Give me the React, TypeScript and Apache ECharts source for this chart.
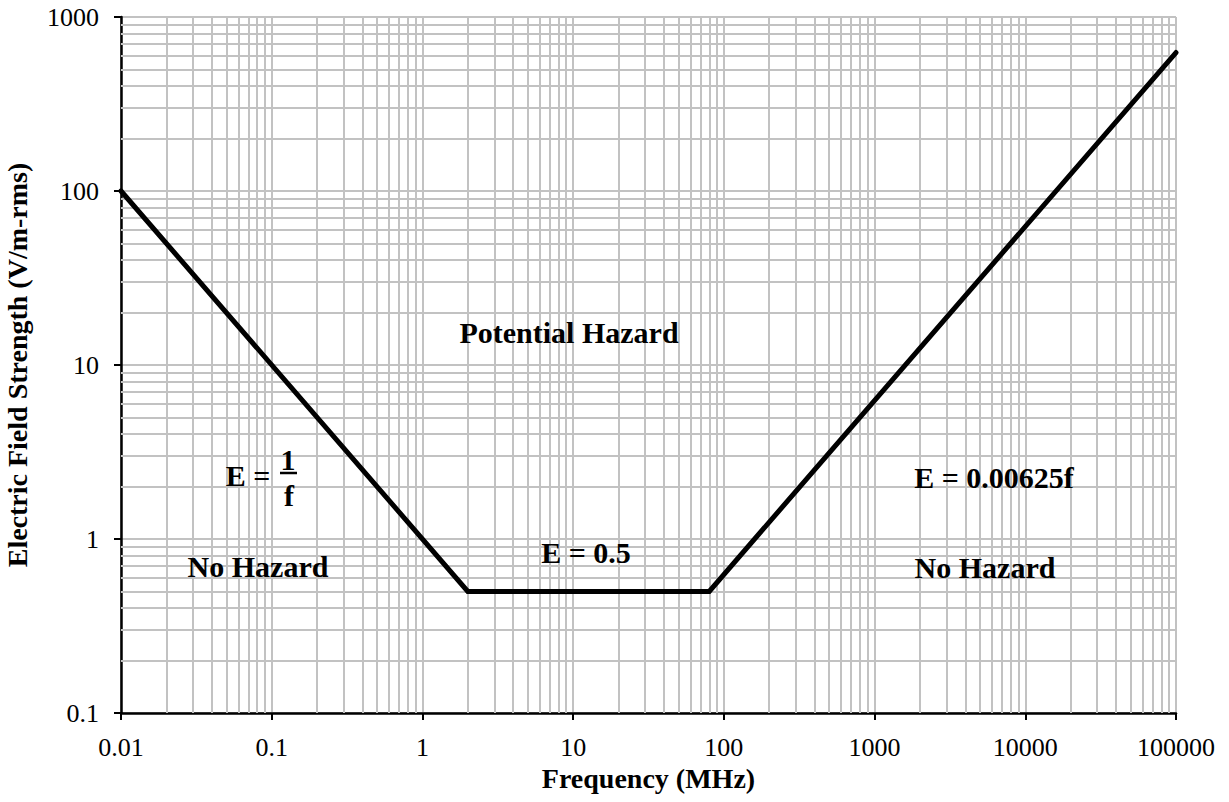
import React, { useEffect, useRef } from 'react';
import * as echarts from 'echarts';

const xDecades = [0.01, 0.1, 1, 10, 100, 1000, 10000, 100000];
const yDecades = [0.1, 1, 10, 100, 1000];
const xTickLabels = ['0.01', '0.1', '1', '10', '100', '1000', '10000', '100000'];
const yTickLabels = ['0.1', '1', '10', '100', '1000'];
const minorMultipliers = [2, 3, 4, 5, 6, 7, 8, 9];
const frequency = [0.01, 2, 80, 100000];
const fieldStrength = [100, 0.5, 0.5, 625];

const GRID = '#c2c2c2';
const FONT = '"Liberation Serif", "Times New Roman", serif';

function minorValues(decades: number[]): number[] {
  const out: number[] = [];
  for (let i = 0; i < decades.length - 1; i++) {
    for (const m of minorMultipliers) out.push(decades[i] * m);
  }
  return out;
}

function labelFor(labels: string[], minExp: number) {
  return (v: number) => {
    const i = Math.round(Math.log10(v)) - minExp;
    return labels[i] ?? '';
  };
}

export default function App() {
  const ref = useRef<HTMLDivElement>(null);
  useEffect(() => {
    if (!ref.current) return;
    const chart = echarts.init(ref.current, null, { renderer: 'svg' });
    const lineData = frequency.map((f, i) => [f, fieldStrength[i]]);
    const xMinor = minorValues(xDecades).map((v) => ({ xAxis: v }));
    const yMinor = minorValues(yDecades).map((v) => ({ yAxis: v }));
    const bold30 = { fontFamily: FONT, fontWeight: 'bold' as const, fontSize: 30, fill: '#000' };
    const txt = (text: string, x: number, y: number) => ({
      type: 'text',
      x,
      y,
      z: 10,
      style: { text, align: 'center', verticalAlign: 'middle', ...bold30 },
    });
    chart.setOption({
      animation: false,
      backgroundColor: '#fff',
      grid: { left: 121, right: 53, top: 17, bottom: 89, containLabel: false, outerBoundsMode: 'none' },
      xAxis: {
        type: 'log',
        logBase: 10,
        min: 0.01,
        max: 100000,
        splitNumber: 7,
        name: 'Frequency (MHz)',
        nameLocation: 'middle',
        nameGap: 47,
        nameTextStyle: { fontFamily: FONT, fontWeight: 'bold', fontSize: 28, color: '#000' },
        axisLine: { show: true, lineStyle: { color: '#000', width: 2.5 } },
        axisTick: { show: true, inside: false, length: 7, lineStyle: { color: '#000', width: 2 } },
        axisLabel: {
          formatter: labelFor(xTickLabels, -2),
          fontFamily: FONT,
          fontSize: 26,
          color: '#000',
          margin: 21,
          showMinLabel: true,
          showMaxLabel: true,
        },
        splitLine: { show: true, lineStyle: { color: GRID, width: 2 } },
        minorTick: { show: false },
      },
      yAxis: {
        type: 'log',
        logBase: 10,
        min: 0.1,
        max: 1000,
        splitNumber: 4,
        name: 'Electric Field Strength (V/m-rms)',
        nameLocation: 'middle',
        nameGap: 90,
        nameTextStyle: { fontFamily: FONT, fontWeight: 'bold', fontSize: 28, color: '#000' },
        axisLine: { show: true, lineStyle: { color: '#000', width: 2.5 } },
        axisTick: { show: true, inside: false, length: 7, lineStyle: { color: '#000', width: 2 } },
        axisLabel: {
          formatter: labelFor(yTickLabels, -1),
          fontFamily: FONT,
          fontSize: 26,
          color: '#000',
          margin: 22,
          showMinLabel: true,
          showMaxLabel: true,
        },
        splitLine: { show: true, lineStyle: { color: GRID, width: 2 } },
      },
      series: [
        {
          type: 'line',
          data: lineData,
          z: 1,
          silent: true,
          showSymbol: false,
          lineStyle: { opacity: 0 },
          markLine: {
            z: 1,
            silent: true,
            animation: false,
            symbol: ['none', 'none'],
            label: { show: false },
            emphasis: { disabled: true },
            lineStyle: { color: GRID, width: 2, type: 'solid' },
            data: [...xMinor, ...yMinor],
          },
        },
        {
          type: 'line',
          data: lineData,
          z: 5,
          silent: true,
          showSymbol: false,
          lineStyle: { color: '#000', width: 5, cap: 'round', join: 'miter' },
        },
      ],
      graphic: [
        txt('Potential Hazard', 569, 332),
        txt('No Hazard', 258, 566),
        txt('No Hazard', 985, 567),
        txt('E = 0.5', 586, 552),
        txt('E = 0.00625f', 994, 477),
        txt('E =', 248, 475),
        txt('1', 288, 459),
        txt('f', 289, 495),
        {
          type: 'line',
          z: 10,
          shape: { x1: 280, y1: 473, x2: 297, y2: 473 },
          style: { stroke: '#000', lineWidth: 2.5 },
        },
      ],
    });
    return () => chart.dispose();
  }, []);
  return (
    <div
      ref={ref}
      style={{ position: 'fixed', left: 0, top: 0, width: 1229, height: 802, background: '#fff' }}
    />
  );
}
